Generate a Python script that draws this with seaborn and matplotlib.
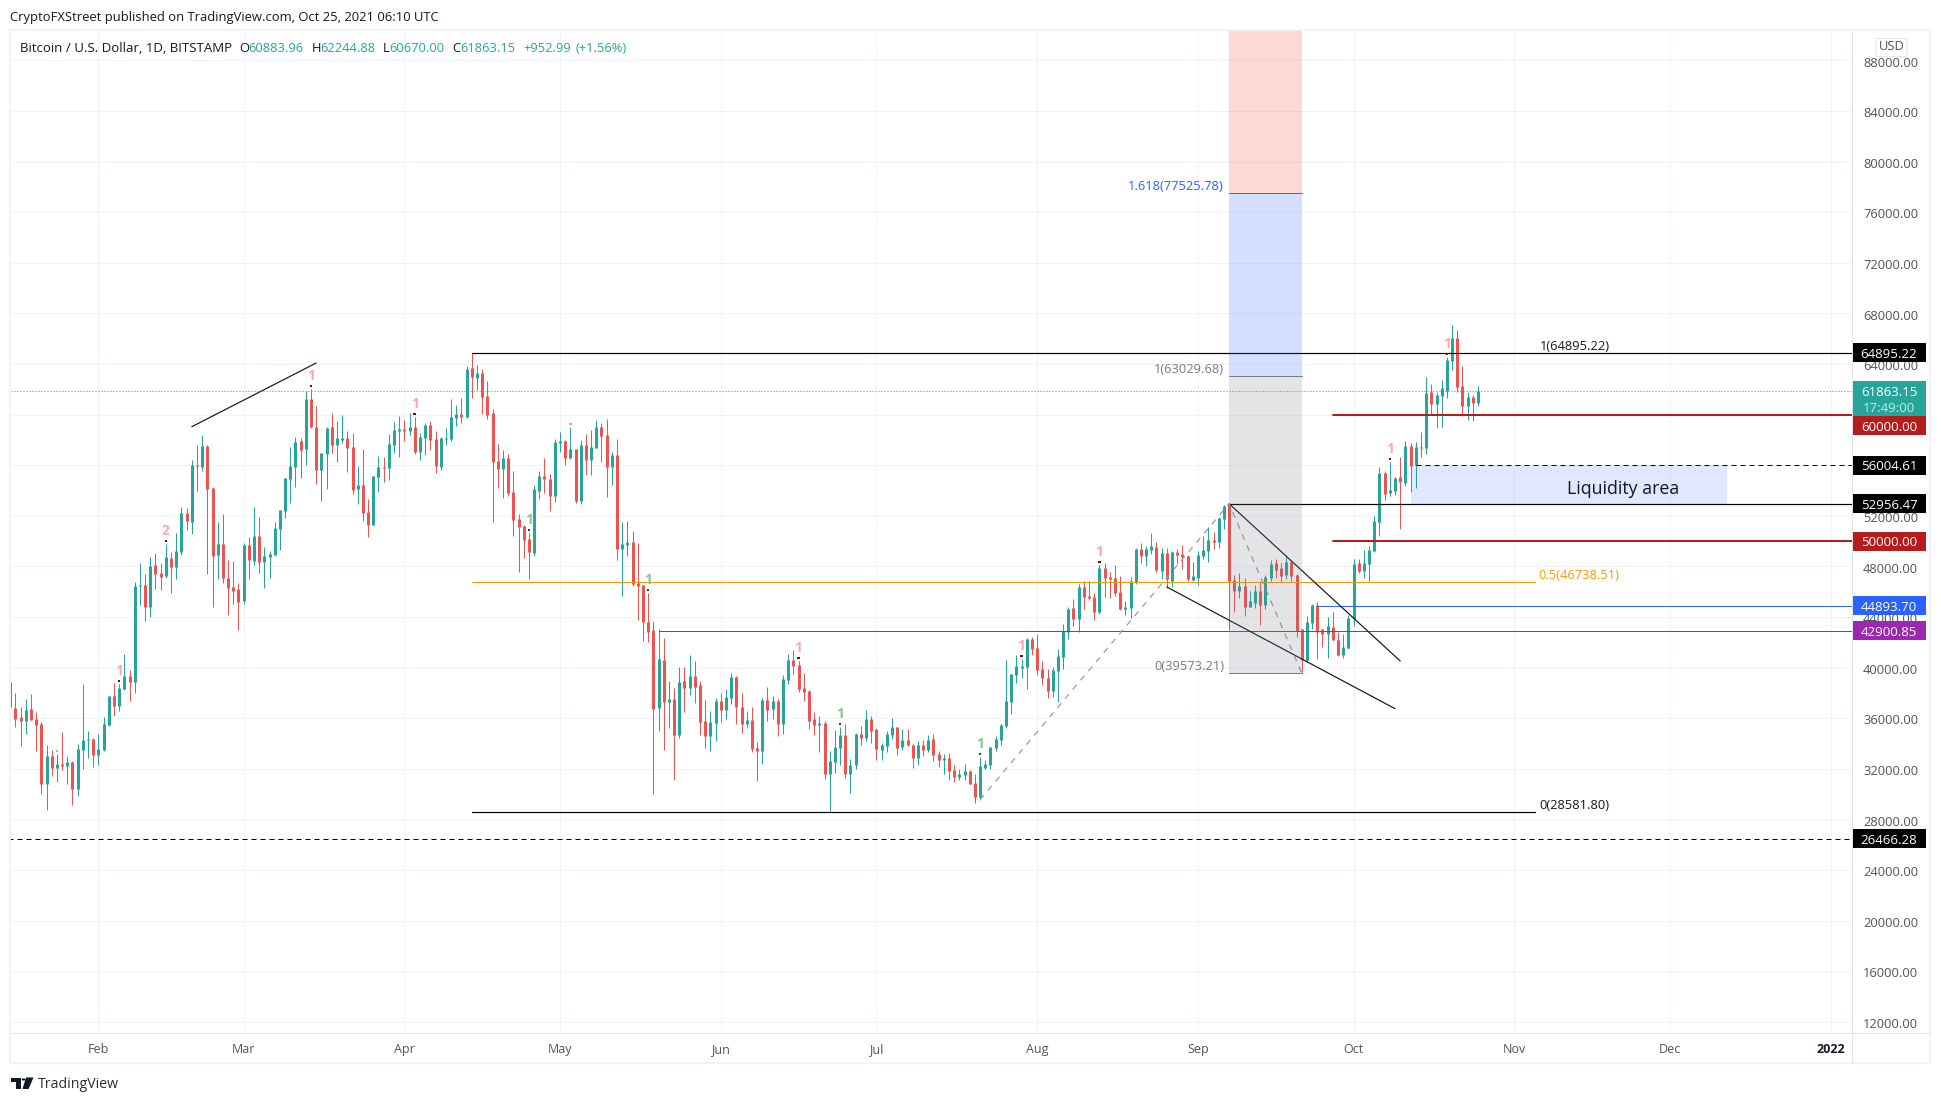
import numpy as np
import pandas as pd
import matplotlib
matplotlib.use("Agg")
import matplotlib.pyplot as plt
from matplotlib.patches import Rectangle, Polygon, Circle, FancyBboxPatch
from matplotlib.transforms import ScaledTranslation
import seaborn as sns

# daily BTC/USD candles, first candle is Jan 15 2021
directions = list(
    "RRRGRRRGRG" "RGRGGGRGGG" "RGGRGGRGRR" "GRGGRGRGRR" "GRRRRGRGRG" "GGGGGGRGRR"
    "GGRGGRRGRR" "GGRGGGRGRG" "GRRGGGGRGR" "GRRRRGRRRR" "RGGRRGGRGR" "GRGGRRGRGG"
    "RRRRRGRGRG" "RGRRRGGRGG" "RRGRRGRGRG" "GRRRRRGRGG" "GRGGRGRRGG" "GRGRRGRGRR"
    "GRRGGRRGGG" "GGGGGGGRRR" "RGGGGRGRRR" "GRRRRGGGRG" "GRGRGRRRGG" "GGRGGRRGRG"
    "GRGGRRGRRR" "GGRRGRRGGG" "RGGGGRGGRG" "RGRGRGGGGR" "RGRG"
)
highs = [
    39150, 37990, 36890, 37520, 37910, 36490, 35700, 33880, 33490, 33170,
    34910, 33010, 32620, 33960, 38700, 34990, 34440, 34750, 36100, 37760,
    38780, 38700, 41080, 39810, 46770, 48270, 47400, 48740, 49060, 48270,
    49770, 49140, 50640, 52700, 52620, 56410, 57600, 58390, 57600, 54280,
    51510, 52140, 48510, 48430, 46690, 49850, 50320, 52700, 51900, 49530,
    49220, 51510, 52460, 54990, 57440, 58230, 58150, 61890, 62020, 60680,
    56960, 59020, 60130, 59490, 59970, 58700, 58550, 55940, 57280, 53330,
    55150, 56730, 56650, 58470, 59420, 59890, 59570, 60130, 59810, 58550,
    59340, 59490, 58700, 58230, 58940, 61230, 60760, 61310, 63840, 64895,
    63920, 63600, 62660, 60440, 57680, 57200, 56890, 55540, 52140, 51270,
    50640, 54440, 55540, 56570, 55300, 58070, 58620, 57990, 59020, 57280,
    57990, 58470, 58780, 59570, 59340, 59650, 57040, 58070, 51510, 51590,
    50800, 49850, 46530, 45900, 43680, 43050, 42340, 38940, 38390, 40050,
    40050, 41000, 40520, 38940, 37440, 36570, 37600, 37990, 38310, 39570,
    39340, 37990, 36570, 36890, 34120, 37600, 38470, 37760, 37520, 39420,
    41080, 41390, 40520, 39570, 38230, 36490, 36170, 35780, 33410, 35070,
    35310, 35540, 32780, 34830, 35380, 36650, 36170, 35150, 34040, 34990,
    36020, 35310, 35150, 35150, 33960, 34200, 34280, 34670, 34750, 33410,
    33170, 33250, 32300, 31980, 32380, 31910, 31590, 32930, 32700, 33720,
    34590, 35540, 40600, 39490, 41000, 40680, 42340, 42420, 42660, 40520,
    39890, 40050, 41470, 43450, 44790, 45420, 46610, 46850, 46850, 45900,
    48110, 48270, 47560, 48110, 47240, 45270, 47160, 49460, 49850, 49610,
    50640, 49930, 49460, 49460, 49220, 49380, 49690, 48900, 48350, 49220,
    50400, 51120, 50720, 51910, 52850, 52956, 47320, 47480, 47080, 46060,
    46530, 46850, 47320, 48510, 48590, 48270, 48900, 48430, 47400, 43050,
    44080, 45030, 45190, 43050, 44000, 44400, 42810, 42660, 44160, 48590,
    48590, 49300, 49610, 51980, 55860, 55540, 56250, 55070, 56650, 57910,
    57760, 57840, 58630, 62970, 62420, 61790, 62740, 64550, 67080, 66690,
    63840, 61790, 61550, 62244.88,
]
body_tops = [
    38840, 36810, 36100, 36650, 36730, 35940, 35540, 33010, 33010, 32380,
    32380, 32540, 32540, 33570, 34280, 34360, 34360, 33570, 35540, 37760,
    37760, 38390, 39340, 39340, 46450, 46530, 46530, 48030, 48110, 47480,
    48740, 48660, 49220, 52220, 52220, 56020, 56020, 57520, 57520, 54200,
    49770, 49770, 47080, 46370, 46210, 49690, 49690, 50400, 50400, 48820,
    48980, 51040, 52460, 54990, 55940, 57830, 57910, 61230, 61230, 59020,
    56960, 58940, 59020, 58150, 58150, 58150, 57440, 54440, 54440, 52300,
    55150, 55860, 55860, 57680, 58780, 58860, 58860, 59020, 59020, 58230,
    59180, 59180, 58070, 58150, 58150, 59810, 60050, 60050, 63600, 63680,
    63290, 63290, 61470, 60130, 56330, 56570, 56570, 53880, 51750, 51190,
    50170, 54120, 55150, 55150, 54910, 57830, 57910, 57910, 57280, 57280,
    57600, 57600, 57440, 59020, 59020, 58390, 56810, 56810, 49770, 49930,
    49930, 46690, 46530, 43610, 42970, 40680, 40600, 37520, 37520, 38860,
    38940, 39340, 39340, 38630, 35780, 35700, 37360, 37360, 37680, 39260,
    39260, 36890, 35860, 35860, 33650, 37440, 37440, 37360, 37360, 39100,
    40600, 40600, 40210, 38390, 38150, 35940, 35620, 35620, 32620, 33720,
    34670, 34670, 32300, 34750, 34750, 35940, 35940, 35150, 33880, 34750,
    35310, 35310, 34280, 34280, 33880, 33880, 33880, 34280, 34360, 33170,
    32880, 32850, 31910, 31590, 31830, 31830, 30880, 32220, 32380, 33700,
    34360, 35460, 37360, 39490, 40130, 40130, 42260, 42260, 41550, 39890,
    39180, 39810, 40920, 42890, 44630, 44710, 46370, 46370, 45660, 45580,
    47870, 47870, 47160, 47080, 45980, 44790, 46850, 49380, 49380, 49380,
    49610, 49530, 49060, 49060, 49140, 49140, 48980, 48820, 47240, 48900,
    49300, 50090, 50090, 51830, 52780, 52910, 46930, 46450, 46450, 45270,
    46060, 46060, 47160, 48190, 48270, 47870, 48350, 48350, 47320, 43050,
    43610, 44950, 44950, 43050, 43290, 43210, 42180, 41630, 43920, 48190,
    48270, 48270, 49300, 51590, 55380, 55380, 54040, 54990, 55070, 57520,
    57520, 57440, 57440, 61710, 61790, 61550, 62100, 64320, 66060, 66060,
    62260, 61390, 61390, 61863.15,
]
body_bottoms = [
    36860, 35940, 35780, 35780, 35860, 35460, 30800, 30800, 32060, 32060,
    32220, 32220, 30400, 30400, 33490, 34280, 33090, 33090, 33490, 35460,
    36970, 36970, 38310, 38860, 38860, 46450, 44790, 44790, 47400, 47160,
    47240, 47950, 47950, 49140, 51590, 51510, 55940, 55860, 54120, 48820,
    48900, 47080, 46290, 46050, 45190, 45270, 48510, 48430, 48350, 48350,
    48740, 48900, 50960, 52380, 54910, 55860, 57200, 57280, 59020, 55620,
    55620, 56890, 57600, 57600, 57990, 57360, 54040, 54120, 52220, 51270,
    51270, 55070, 55780, 55780, 57600, 58700, 58700, 58700, 57040, 57040,
    58150, 57990, 55940, 55860, 58070, 58070, 59730, 59810, 59810, 62970,
    62890, 61390, 59970, 56250, 55700, 55700, 53800, 51670, 51120, 50090,
    49140, 49060, 53960, 54910, 53570, 53570, 57760, 56570, 56570, 53170,
    53170, 56410, 56410, 57360, 58310, 55860, 55860, 49380, 49380, 49690,
    46610, 46450, 43610, 42810, 36730, 36810, 37280, 37280, 34670, 34670,
    38390, 38390, 38470, 35700, 34590, 34590, 35620, 36650, 36650, 37600,
    36890, 35540, 35540, 33570, 33410, 33410, 36650, 36730, 35540, 35540,
    39020, 40130, 38310, 38070, 35780, 35460, 35460, 31590, 31590, 32540,
    33650, 31590, 31590, 32300, 34440, 34440, 34990, 33570, 33490, 33800,
    34670, 33650, 33720, 33880, 32850, 32850, 33490, 33490, 33090, 32700,
    32700, 31830, 31350, 31350, 31510, 30800, 29770, 29770, 32060, 32300,
    33650, 34280, 35380, 37280, 39420, 39970, 40050, 41470, 39810, 39180,
    38150, 38150, 39730, 40840, 42810, 43840, 43840, 45580, 45500, 44400,
    44400, 47080, 47000, 45900, 44630, 44630, 44710, 46770, 48820, 48820,
    49300, 47720, 47640, 47000, 46850, 48900, 48740, 47000, 46930, 47080,
    48820, 49220, 49930, 49930, 51750, 46850, 46060, 46060, 44790, 44790,
    45110, 44950, 44950, 47080, 47720, 47240, 47320, 47240, 42890, 40600,
    40600, 43530, 42810, 42660, 42660, 42180, 41000, 41000, 41550, 43840,
    47640, 47640, 48190, 49220, 51510, 53720, 53800, 53960, 54670, 54590,
    55960, 56020, 57360, 57360, 60840, 60840, 61470, 61870, 64240, 62180,
    60680, 60680, 60920, 60883.96,
]
lows = [
    36730, 35300, 33800, 34750, 35860, 33410, 30010, 28740, 31430, 30960,
    31900, 30800, 29140, 29850, 31980, 32850, 32140, 32300, 33410, 35380,
    36170, 36570, 38230, 37360, 37990, 44950, 43680, 44000, 46210, 46130,
    47080, 45900, 47000, 48900, 50880, 50560, 53960, 55540, 47400, 44790,
    47000, 46690, 44160, 45030, 42970, 45030, 47000, 48110, 47480, 46290,
    47080, 48900, 49300, 51830, 53010, 54280, 54990, 56020, 58910, 54510,
    53170, 54120, 56960, 56250, 57760, 55460, 53720, 52930, 51590, 50320,
    51270, 53880, 54670, 54830, 56960, 56650, 57910, 58390, 56890, 56410,
    56810, 57200, 55380, 55620, 57600, 57910, 59100, 59340, 59730, 61310,
    61940, 60050, 59650, 51510, 54200, 53410, 53570, 50400, 47560, 48660,
    47000, 48820, 53330, 53800, 52380, 53090, 57040, 56020, 56490, 53010,
    52930, 55230, 55230, 57360, 56250, 53490, 54440, 48510, 45660, 48820,
    46450, 43760, 42100, 42020, 30010, 34990, 33490, 35230, 31120, 34440,
    36490, 37830, 37200, 34670, 33650, 33410, 34200, 35700, 35940, 37120,
    35540, 34830, 35230, 33330, 31040, 32380, 35780, 35940, 34590, 34750,
    38700, 39490, 38070, 37360, 35150, 34670, 33330, 31190, 28581, 31670,
    32300, 31270, 30090, 31980, 33880, 34200, 34040, 32700, 32700, 33330,
    34360, 33090, 33490, 33800, 32060, 32300, 33010, 33330, 32620, 32140,
    31590, 31120, 30960, 31120, 31120, 30800, 29300, 29530, 31980, 31980,
    33410, 33880, 35230, 36330, 38780, 39180, 38310, 41000, 39420, 38630,
    37600, 37680, 37280, 39890, 42260, 43290, 42810, 44630, 45340, 43760,
    44240, 45580, 45500, 45660, 44550, 44160, 43920, 46610, 48270, 48030,
    48980, 47560, 47000, 46290, 46370, 48190, 47790, 46850, 46850, 46530,
    48590, 48350, 49380, 49460, 50960, 42970, 44400, 45500, 44080, 44790,
    44710, 43370, 44630, 46850, 47080, 46770, 47000, 46850, 42420, 39573,
    40440, 43050, 40680, 41630, 40760, 42180, 40920, 40760, 41470, 43290,
    47480, 47080, 46850, 49140, 50400, 53250, 53570, 53650, 50960, 54360,
    53880, 54200, 56650, 56890, 60050, 58940, 59020, 61310, 63530, 61790,
    59890, 59570, 59500, 60670.00,
]

# td sequential style counters above the candles
marker_dates = ["2021-02-05", "2021-02-14", "2021-03-14", "2021-04-03", "2021-04-25",
                "2021-05-18", "2021-06-16", "2021-06-24", "2021-07-21", "2021-07-29",
                "2021-08-13", "2021-10-08", "2021-10-19", "2021-01-24", "2021-05-03"]
marker_kinds = ["sell", "sell", "sell", "sell", "buy", "buy", "sell", "buy", "buy",
                "sell", "sell", "sell", "sell", "warn", "warn"]
marker_texts = ["1", "2", "1", "1", "1", "1", "1", "1", "1", "1", "1", "1", "1", "", ""]

# horizontal levels: price, start, colour, width in px, dashes
level_prices = [64895.22, 60000.00, 56004.61, 52956.47, 50000.00, 44893.70, 42900.85, 26466.28]
level_starts = ["2021-04-14", "2021-09-27", "2021-10-13", "2021-09-07", "2021-09-27",
                "2021-09-24", "2021-05-20", "2021-01-10"]
level_colors = ["#000000", "#b71c1c", "#000000", "#000000", "#b71c1c", "#2962ff", "#9c27b0", "#000000"]
level_widths = [1.2, 2, 1, 1.2, 2, 1, 1, 1]

y_ticks = list(range(12000, 92000, 4000))
month_dates = ["2021-02-01", "2021-03-01", "2021-04-01", "2021-05-01", "2021-06-01",
               "2021-07-01", "2021-08-01", "2021-09-01", "2021-10-01", "2021-11-01",
               "2021-12-01", "2022-01-01"]
month_labels = ["Feb", "Mar", "Apr", "May", "Jun", "Jul", "Aug", "Sep", "Oct", "Nov", "Dec", "2022"]

UP = "#26a69a"
DOWN = "#ef5350"
GRID = "#f0f3fa"
TEXT = "#131722"
AXIS_TEXT = "#50535e"
PX = 0.72  # one pixel in points at dpi 100

W, H = 1941, 1103

sns.set_theme(style="white")
plt.rcParams["font.family"] = ["Open Sans", "DejaVu Sans"]

fig = plt.figure(figsize=(W / 100, H / 100), dpi=100, facecolor="white")
ax = fig.add_axes([11 / W, 1 - 1033 / H, (1852 - 11) / W, (1033 - 31) / H])

x_left = pd.Timestamp("2021-02-01") - pd.Timedelta(days=16.85)
x_right = pd.Timestamp("2021-02-01") + pd.Timedelta(days=338.1)

candles = pd.DataFrame({
    "date": pd.date_range("2021-01-15", periods=len(highs)),
    "direction": directions,
    "high": highs, "low": lows, "top": body_tops, "bottom": body_bottoms,
})
palette = {"G": UP, "R": DOWN}

wicks = candles.melt(id_vars=["date", "direction"], value_vars=["high", "low"], value_name="price")
bodies = candles.melt(id_vars=["date", "direction"], value_vars=["top", "bottom"], value_name="price")

sns.lineplot(data=wicks, x="date", y="price", hue="direction", units="date", estimator=None,
             palette=palette, linewidth=1 * PX, legend=False, ax=ax, solid_capstyle="butt", zorder=2)
sns.lineplot(data=bodies, x="date", y="price", hue="direction", units="date", estimator=None,
             palette=palette, linewidth=3 * PX, legend=False, ax=ax, solid_capstyle="butt", zorder=2.1)


def seg(xs, ys, color, width=1.0, ls="-", z=3):
    sns.lineplot(x=pd.to_datetime(xs), y=ys, sort=False, estimator=None, color=color,
                 linewidth=width * PX, linestyle=ls, ax=ax, zorder=z, legend=False)


# fib extension box, drawn over the candles
box_x = pd.to_datetime(["2021-09-07", "2021-09-21"])
ax.fill_between(box_x, 39573.21, 63029.68, color="#787b86", alpha=0.2, lw=0, zorder=4)
ax.fill_between(box_x, 63029.68, 77525.78, color="#2962ff", alpha=0.2, lw=0, zorder=4)
ax.fill_between(box_x, 77525.78, 95000, color="#f44336", alpha=0.2, lw=0, zorder=4)
seg(box_x, [39573.21, 39573.21], "#787b86", 1)
seg(box_x, [63029.68, 63029.68], "#787b86", 1)
seg(box_x, [77525.78, 77525.78], "#2962ff", 1)

# liquidity area
ax.fill_between(pd.to_datetime(["2021-10-12", "2021-12-12"]), 52956.47, 56004.61,
                color="#2962ff", alpha=0.14, lw=0, zorder=1.5)
ax.text(pd.Timestamp("2021-11-22"), 54100, "Liquidity area", color=TEXT, fontsize=12.8,
        ha="center", va="center", zorder=6)

# levels running to the price axis
for price, start, color, width in zip(level_prices, level_starts, level_colors, level_widths):
    is_dashed = price in (56004.61, 26466.28)
    seg([start, x_right], [price, price], color, width, (0, (5, 4)) if is_dashed else "-")

# fib retracement
seg(["2021-04-14", "2021-11-05"], [28581.80, 28581.80], "#000000", 1.2)
seg(["2021-04-14", "2021-11-05"], [46738.51, 46738.51], "#ff9800", 1)

# last price
seg([x_left, x_right], [61863.15, 61863.15], UP, 1, (0, (1, 2)))

# trend lines
seg(["2021-02-19", "2021-03-15"], [59040, 64080], "#131722", 1.2)
seg(["2021-09-07", "2021-10-10"], [52956, 40520], "#131722", 1.2)
seg(["2021-08-26", "2021-10-09"], [46370, 36750], "#131722", 1.2)
seg(["2021-07-21", "2021-09-07", "2021-09-21"], [29560, 52956, 39573], "#9598a1", 1.2, (0, (5, 5)))

# fib labels
label_px = 6.5 * PX
for when, price, text, color, dx, ha in [
    ("2021-09-07", 77525.78, "1.618(77525.78)", "#2962ff", -5, "right"),
    ("2021-09-07", 63029.68, "1(63029.68)", "#787b86", -5, "right"),
    ("2021-09-07", 39573.21, "0(39573.21)", "#787b86", -5, "right"),
    ("2021-11-05", 64895.22, "1(64895.22)", TEXT, 5, "left"),
    ("2021-11-05", 46738.51, "0.5(46738.51)", "#ff9800", 3, "left"),
    ("2021-11-05", 28581.80, "0(28581.80)", TEXT, 4, "left"),
]:
    ax.annotate(text, (pd.Timestamp(when), price), xytext=(dx * PX, label_px), textcoords="offset points",
                ha=ha, va="center", color=color, fontsize=9.3, zorder=6)

# counters
markers = pd.DataFrame({"date": pd.to_datetime(marker_dates), "kind": marker_kinds, "text": marker_texts})
markers = markers.merge(candles[["date", "high"]], on="date")
markers["dot"] = markers["high"] + 240
sns.scatterplot(data=markers, x="date", y="dot", hue="kind", marker="s", s=3.5, linewidth=0,
                palette={"sell": "#8b0000", "buy": "#006400", "warn": "#ffa726"},
                legend=False, ax=ax, zorder=3)
pale = {"sell": "#ffa6aa", "buy": "#8cc48e", "warn": "#ffa726"}
for row in markers.itertuples():
    ax.annotate(row.text, (row.date, row.high), xytext=(0, 13 * PX), textcoords="offset points",
                ha="center", va="center", color=pale[row.kind], fontsize=10, fontweight="bold", zorder=3)

# axes
ax.set_xlim(x_left, x_right)
ax.set_ylim(11114, 90323)
ax.set_xlabel("")
ax.set_ylabel("")
ax.set_xticks(pd.to_datetime(month_dates))
ax.set_xticklabels(month_labels)
ax.set_yticks(y_ticks)
ax.set_yticklabels([f"{v}.00" for v in y_ticks])
ax.yaxis.tick_right()
ax.tick_params(axis="both", length=0)
ax.tick_params(axis="y", pad=8, labelsize=9.3, labelcolor=AXIS_TEXT)
ax.tick_params(axis="x", pad=7, labelsize=9, labelcolor=AXIS_TEXT)
ax.get_xticklabels()[-1].set_fontweight("bold")
ax.get_xticklabels()[-1].set_color(TEXT)
ax.grid(True, color=GRID, linewidth=1 * PX)
ax.set_axisbelow(True)
for spine in ax.spines.values():
    spine.set_visible(False)
# price labels sit a pixel lower than the grid line
for lab in ax.get_yticklabels():
    lab.set_transform(lab.get_transform() + ScaledTranslation(0, -1.3 / 100, fig.dpi_scale_trans))

# price tags on the right axis
tag_w = 74 / 1841
tag_h = 19 / 0.01265
text_drop = 110  # digits sit a little above the middle of their line box
tags = [
    (64895.22, "64895.22", "#000000"),
    (59100, "60000.00", "#b71c1c"),
    (56004.61, "56004.61", "#000000"),
    (52956.47, "52956.47", "#000000"),
    (50000.00, "50000.00", "#b71c1c"),
    (44893.70, "44893.70", "#2962ff"),
    (42900.85, "42900.85", "#9c27b0"),
    (26466.28, "26466.28", "#000000"),
]
ytrans = ax.get_yaxis_transform()
for center, text, color in tags:
    ax.add_patch(Rectangle((1.0, center - tag_h / 2), tag_w, tag_h, transform=ytrans, clip_on=False,
                           fc=color, ec="none", zorder=10))
    ax.text(1.0 + tag_w / 2, center - text_drop, text, transform=ytrans, color="white", fontsize=9.5,
            ha="center", va="center", zorder=11, clip_on=False)
ax.add_patch(Rectangle((1.0, 61266 - 35 / 0.01265 / 2), tag_w, 35 / 0.01265, transform=ytrans,
                       clip_on=False, fc=UP, ec="none", zorder=10))
ax.text(1.0 + tag_w / 2, 61863.15 - text_drop, "61863.15", transform=ytrans, color="white", fontsize=9.5,
        ha="center", va="center", zorder=11, clip_on=False)
ax.text(1.0 + tag_w / 2, 60600 - text_drop, "17:49:00", transform=ytrans, color="#c8ebe7", fontsize=9.5,
        ha="center", va="center", zorder=11, clip_on=False)


def fx(px):
    return px / W


def fy(py):
    return 1 - py / H


# frame and separators
fig.add_artist(Rectangle((fx(10), fy(1063)), fx(1930) - fx(10), fy(30) - fy(1063), fc="none", ec=GRID, lw=2 * PX))
fig.add_artist(plt.Line2D([fx(11), fx(1930)], [fy(1033), fy(1033)], color="#e0e3eb", lw=1 * PX))
fig.add_artist(plt.Line2D([fx(1852), fx(1852)], [fy(31), fy(1063)], color="#e0e3eb", lw=1 * PX))

# USD button
usd = FancyBboxPatch((fx(1877), fy(56)), fx(29), fy(39) - fy(56), boxstyle="round,pad=0.0005",
                     fc="white", ec="#e0e3eb", lw=0.7, transform=fig.transFigure, zorder=12)
fig.add_artist(usd)
fig.text(fx(1891.5), fy(47), "USD", color=AXIS_TEXT, fontsize=9.3, ha="center", va="center", zorder=13)

# header texts
fig.text(fx(10.5), fy(18), "CryptoFXStreet published on TradingView.com, Oct 25, 2021 06:10 UTC",
         color=TEXT, fontsize=9.4, va="center")
fig.text(fx(20), fy(48), "Bitcoin / U.S. Dollar, 1D, BITSTAMP", color=TEXT, fontsize=9.5, va="center")
for px, text, color in [(239, "O", TEXT), (248, "60883.96", UP), (311.5, "H", TEXT), (320, "62244.88", UP),
                        (383, "L", TEXT), (389.5, "60670.00", UP), (452.4, "C", TEXT), (460, "61863.15", UP),
                        (523, "+952.99", UP), (575, "(+1.56%)", UP)]:
    fig.text(fx(px), fy(48), text, color=color, fontsize=9.3, va="center")

# TradingView mark
logo = [
    [(11, 1077.5), (21, 1077.5), (21, 1089), (15.5, 1089), (15.5, 1081.5), (11, 1081.5)],
    [(26, 1077.5), (33.5, 1077.5), (28.5, 1089), (22.5, 1089)],
]
for pts in logo:
    fig.add_artist(Polygon([(fx(a), fy(b)) for a, b in pts], closed=True, fc=TEXT, ec="none"))
fig.add_artist(Circle((fx(23.5), fy(1079.5)), 1.9 / W, fc=TEXT, ec="none"))
fig.text(fx(38), fy(1085), "TradingView", color="#2a2e39", fontsize=10.2, va="center")

fig.savefig("out.png", dpi=100)
